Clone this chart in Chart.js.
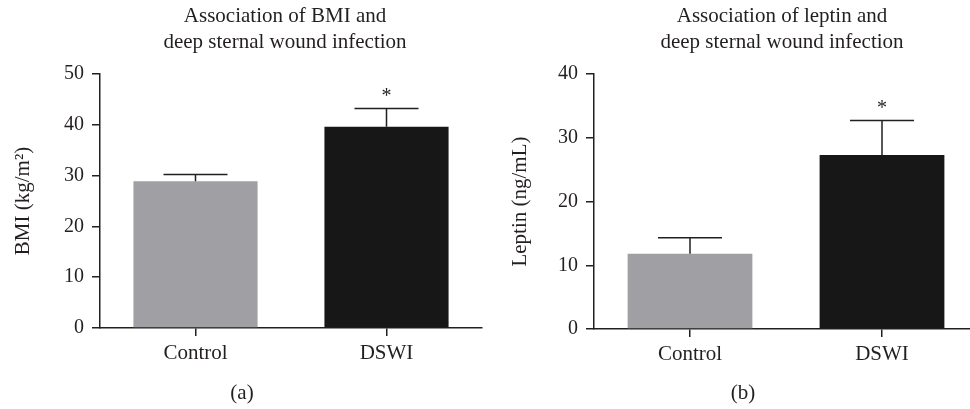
<!DOCTYPE html>
<html>
<head>
<meta charset="utf-8">
<script src="https://cdn.jsdelivr.net/npm/chart.js@4.4.1/dist/chart.umd.min.js"></script>
<style>
  html, body { margin: 0; padding: 0; background: #fff; overflow: hidden; }
  body { width: 970px; height: 409px; position: relative; }
  canvas { position: absolute; top: 0; }
  #bmiChart { left: 0; }
  #leptinChart { left: 485px; }
</style>
</head>
<body>
<canvas id="bmiChart" width="485" height="409"></canvas>
<canvas id="leptinChart" width="493" height="409"></canvas>
<script>
// data (mean + SEM)
const groups = ["Control", "DSWI"];
const bmiMeans = [28.9, 39.6];
const bmiErrors = [1.3, 3.6];
const bmiTicks = [0, 10, 20, 30, 40, 50];
const leptinMeans = [11.8, 27.3];
const leptinErrors = [2.5, 5.4];
const leptinTicks = [0, 10, 20, 30, 40];
const significant = [false, true];

const ink = "#231f20";
const barColors = ["#a09fa4", "#171717"];

Chart.defaults.font.family = "'Liberation Serif', 'Times New Roman', serif";
Chart.defaults.font.size = 20;
Chart.defaults.color = ink;

// error bars, asterisks, panel titles and (a)/(b) labels
const extrasPlugin = {
  id: "extras",
  afterDatasetsDraw(chart, args, opts) {
    const { ctx } = chart;
    const y = chart.scales.y;
    const meta = chart.getDatasetMeta(0);
    ctx.save();
    ctx.strokeStyle = ink;
    ctx.fillStyle = ink;
    ctx.lineWidth = 1.5;
    meta.data.forEach((bar, i) => {
      const top = y.getPixelForValue(opts.means[i] + opts.errors[i]);
      const base = y.getPixelForValue(opts.means[i]);
      ctx.beginPath();
      ctx.moveTo(bar.x, base);
      ctx.lineTo(bar.x, top);
      ctx.moveTo(bar.x - 32, top);
      ctx.lineTo(bar.x + 32, top);
      ctx.stroke();
      if (significant[i]) {
        ctx.font = "20px 'Liberation Serif', serif";
        ctx.textAlign = "center";
        ctx.textBaseline = "alphabetic";
        ctx.fillText("*", bar.x, top - 7);
      }
    });
    ctx.restore();
  },
  afterDraw(chart, args, opts) {
    const { ctx } = chart;
    ctx.save();
    ctx.fillStyle = ink;
    ctx.textAlign = "center";
    ctx.textBaseline = "middle";
    ctx.font = "21px 'Liberation Serif', serif";
    opts.title.forEach((line, i) => ctx.fillText(line, opts.titleX, 16 + i * 26));
    ctx.fillText(opts.panel, opts.panelX, 393);
    ctx.restore();
  }
};

function makeChart(id, means, errors, ticks, yTitle, cfg) {
  return new Chart(document.getElementById(id), {
    type: "bar",
    data: {
      labels: groups,
      datasets: [{
        data: means,
        backgroundColor: barColors,
        borderWidth: 0,
        barPercentage: 0.65,
        categoryPercentage: 1
      }]
    },
    options: {
      responsive: false,
      animation: false,
      layout: { padding: { left: 0, top: 74, right: cfg.right, bottom: 0 } },
      plugins: {
        legend: { display: false },
        tooltip: { enabled: false },
        extras: { means, errors, title: cfg.title, titleX: cfg.titleX, panel: cfg.panel, panelX: cfg.panelX }
      },
      scales: {
        x: {
          offset: true,
          grid: { offset: false, drawOnChartArea: false, tickLength: 8, color: ink, lineWidth: 1.5 },
          border: { color: ink, width: 1.5 },
          ticks: { padding: 5, font: { size: 21 } },
          afterFit: (s) => { s.height = cfg.xHeight; }
        },
        y: {
          min: ticks[0],
          max: ticks[ticks.length - 1],
          afterBuildTicks: (s) => { s.ticks = ticks.map((v) => ({ value: v })); },
          grid: { drawOnChartArea: false, tickLength: 8, color: ink, lineWidth: 1.5 },
          border: { color: ink, width: 1.5 },
          ticks: { padding: 8, font: { size: 20 } },
          title: { display: true, text: yTitle, font: { size: 21 }, padding: { top: cfg.yTitlePad, bottom: 0 } },
          afterFit: (s) => { s.width = cfg.yWidth; }
        }
      }
    },
    plugins: [extrasPlugin]
  });
}

makeChart("bmiChart", bmiMeans, bmiErrors, bmiTicks, "BMI (kg/m²)", {
  right: 3, xHeight: 81, yWidth: 100, yTitlePad: 11,
  title: ["Association of BMI and", "deep sternal wound infection"], titleX: 285,
  panel: "(a)", panelX: 242
});

makeChart("leptinChart", leptinMeans, leptinErrors, leptinTicks, "Leptin (ng/mL)", {
  right: 0, xHeight: 80, yWidth: 109, yTitlePad: 23,
  title: ["Association of leptin and", "deep sternal wound infection"], titleX: 297,
  panel: "(b)", panelX: 258
});
</script>
</body>
</html>
